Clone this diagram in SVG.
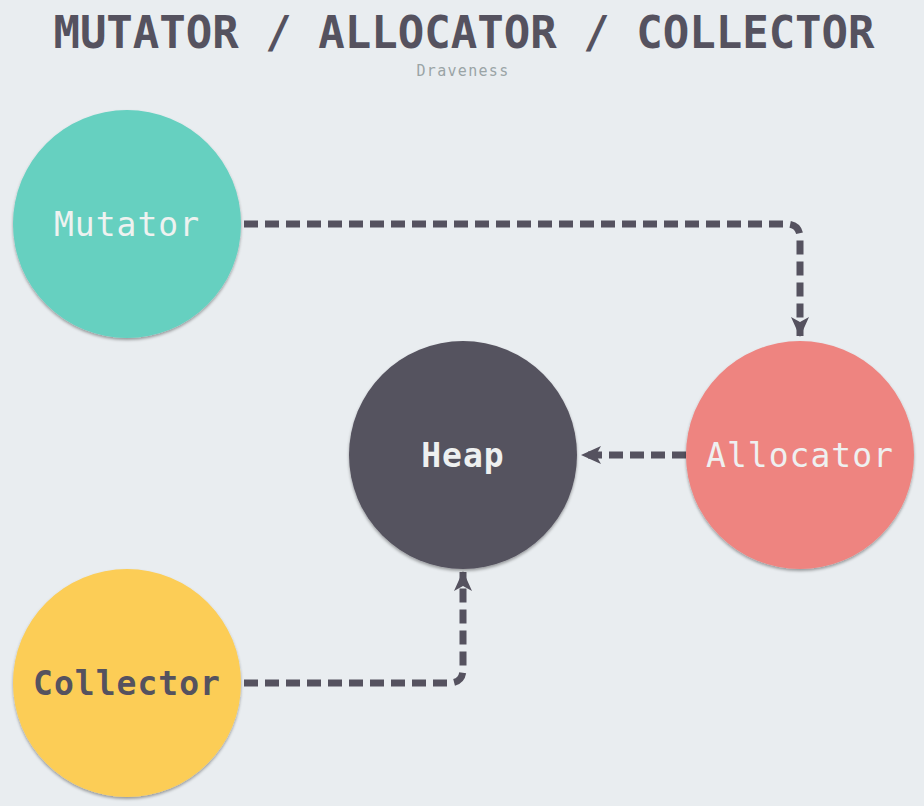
<svg xmlns="http://www.w3.org/2000/svg" width="924" height="806" viewBox="0 0 924 806">
<defs>
<filter id="sh" x="-10%" y="-10%" width="120%" height="125%">
<feDropShadow dx="0" dy="2" stdDeviation="1.5" flood-color="#000" flood-opacity="0.35"/>
</filter>
<marker id="ah" viewBox="0 0 20 18" refX="19" refY="9" markerWidth="20" markerHeight="18" markerUnits="userSpaceOnUse" orient="auto">
<path d="M0,0 L20,9 L0,18 L5,9 Z" fill="#55525f"/>
</marker>
<style>
.t{font-family:"DejaVu Sans Mono","Liberation Mono",monospace;}
.lbl{font-size:33px;letter-spacing:1px;text-anchor:middle;}
.b{font-weight:bold;}
.c{fill:none;stroke:#55525f;stroke-width:7;stroke-dasharray:14 7;marker-end:url(#ah);}
</style>
</defs>
<rect width="924" height="806" fill="#e9edf0"/>
<text class="t" x="464" y="48" font-size="44" font-weight="bold" fill="#55525f" text-anchor="middle">MUTATOR / ALLOCATOR / COLLECTOR</text>
<text class="t" x="463" y="76" font-size="15" letter-spacing="1.3" fill="#9aa4a6" text-anchor="middle">Draveness</text>
<g id="connectors">
<path class="c" d="M244,224 H786 Q800,224 800,238 V336"/>
<path class="c" d="M686,455 H582"/>
<path class="c" d="M244,683 H449 Q463,683 463,669 V572"/>
</g>
<g id="mutator">
<circle cx="127" cy="224" r="114" fill="#66d0c0" filter="url(#sh)"/>
<text class="t lbl" x="127" y="236" fill="#eef2f0">Mutator</text>
</g>
<g id="heap">
<circle cx="463" cy="455" r="114" fill="#55525f" filter="url(#sh)"/>
<text class="t lbl b" x="463" y="467" fill="#eef0f0">Heap</text>
</g>
<g id="allocator">
<circle cx="800" cy="455" r="114" fill="#ee8480" filter="url(#sh)"/>
<text class="t lbl" x="800" y="467" fill="#eef0f0">Allocator</text>
</g>
<g id="collector">
<circle cx="127" cy="683" r="114" fill="#fccd56" filter="url(#sh)"/>
<text class="t lbl b" x="127" y="695" fill="#55525f">Collector</text>
</g>
</svg>
